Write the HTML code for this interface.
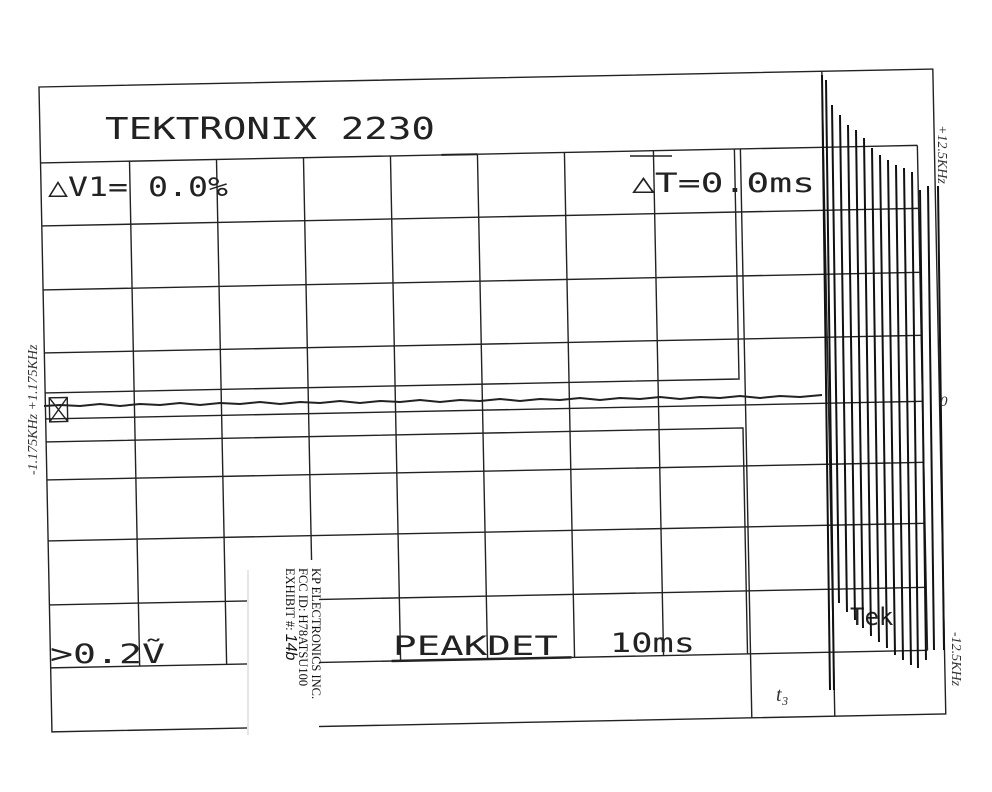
<!DOCTYPE html>
<html><head><meta charset="utf-8">
<style>
html,body{margin:0;padding:0;background:#fff;}
svg{display:block;}
.m{font-family:"DejaVu Sans Mono","Liberation Mono",monospace;fill:#222;}
</style></head><body>
<svg width="992" height="792" viewBox="0 0 992 792" xmlns="http://www.w3.org/2000/svg">
<rect width="992" height="792" fill="#fff"/>
<g transform="rotate(-1.15 39 87)" stroke="#222" stroke-width="1.4" fill="none">
  <rect x="39" y="87" width="894" height="645"/>
  <line x1="39" y1="163" x2="822" y2="163"/>
  <g>
    <line x1="39" y1="226" x2="916" y2="226"/>
    <line x1="39" y1="290" x2="916" y2="290"/>
    <line x1="39" y1="353" x2="916" y2="353"/>
    <line x1="39" y1="419" x2="916" y2="419"/>
    <line x1="39" y1="480" x2="916" y2="480"/>
    <line x1="39" y1="541" x2="916" y2="541"/>
    <line x1="39" y1="605" x2="916" y2="605"/>
    <line x1="39" y1="668" x2="916" y2="668"/>
    <line x1="822" y1="163" x2="916" y2="163"/>
    <line x1="916" y1="163" x2="916" y2="668"/>
  </g>
  <g>
    <line x1="128" y1="163" x2="128" y2="668"/>
    <line x1="215" y1="163" x2="215" y2="668"/>
    <line x1="302" y1="163" x2="302" y2="668"/>
    <line x1="389" y1="163" x2="389" y2="668"/>
    <line x1="476" y1="163" x2="476" y2="668"/>
    <line x1="563" y1="163" x2="563" y2="668"/>
    <line x1="652" y1="163" x2="652" y2="668"/>
    <line x1="739" y1="163" x2="739" y2="732"/>
    <line x1="822" y1="87" x2="822" y2="732"/>
  </g>
  <polyline points="39,393 733,393 733,163"/>
  <polyline points="39,442 736,442 736,668"/>
  <line x1="440" y1="163" x2="476" y2="163" stroke-width="2"/>
  <rect x="43" y="398" width="18" height="24"/>
  <line x1="43" y1="398" x2="61" y2="422"/>
  <line x1="43" y1="422" x2="61" y2="398"/>
  <line x1="380" y1="668" x2="560" y2="668" stroke-width="2.5"/>
</g>
<line x1="630" y1="156" x2="672" y2="156" stroke="#222" stroke-width="1.6"/>
<g stroke="none">
  <text x="105" y="139" class="m" font-size="30" textLength="330" lengthAdjust="spacingAndGlyphs">TEKTRONIX 2230</text>
  <text x="48" y="196" class="m" font-size="27" textLength="180" lengthAdjust="spacingAndGlyphs">△V1= 0.0%</text>
  <text x="632" y="192" class="m" font-size="27" textLength="183" lengthAdjust="spacingAndGlyphs">△T=0.0ms</text>
  <text x="50" y="663" class="m" font-size="27" textLength="115" lengthAdjust="spacingAndGlyphs">&gt;0.2Ṽ</text>
  <text x="393" y="655" class="m" font-size="27" textLength="165" lengthAdjust="spacingAndGlyphs">PEAKDET</text>
  <text x="610" y="652" class="m" font-size="27" textLength="85" lengthAdjust="spacingAndGlyphs">10ms</text>
  <text x="776" y="701" font-family="Liberation Serif,serif" font-style="italic" font-size="20" fill="#333">t₃</text>
  <text x="850" y="625" class="m" font-size="24" fill="#333">Tek</text>
</g>
<polyline fill="none" stroke="#222" stroke-width="2" points="44,406 60,405 80,406 100,404 120,406 140,404 160,405 180,403 200,405 220,403 240,404 260,402 280,404 300,402 320,403 340,401 360,403 380,401 400,402 420,400 440,402 460,400 480,401 500,399 520,401 540,399 560,400 580,398 600,400 620,398 640,399 660,397 680,399 700,397 720,398 740,396 760,398 780,396 800,397 822,395"/>
<g stroke="#111" stroke-width="2" fill="none">
  <line x1="822" y1="75" x2="830" y2="690"/>
  <line x1="826" y1="80" x2="834" y2="690"/>
  <line x1="832" y1="105" x2="839" y2="603"/>
  <line x1="840" y1="115" x2="847" y2="612"/>
  <line x1="848" y1="125" x2="855" y2="620"/>
  <line x1="856" y1="130" x2="863" y2="628"/>
  <line x1="864" y1="138" x2="871" y2="636"/>
  <line x1="872" y1="148" x2="879" y2="642"/>
  <line x1="880" y1="155" x2="887" y2="648"/>
  <line x1="888" y1="160" x2="895" y2="655"/>
  <line x1="896" y1="165" x2="903" y2="660"/>
  <line x1="904" y1="168" x2="911" y2="665"/>
  <line x1="912" y1="172" x2="918" y2="668"/>
  <line x1="920" y1="190" x2="926" y2="660"/>
  <line x1="928" y1="186" x2="934" y2="650"/>
  <line x1="938" y1="186" x2="944" y2="650"/>
</g>
<g font-family="Liberation Serif,serif" font-style="italic" font-size="14" fill="#333">
  <text transform="translate(938,125) rotate(90)">+12.5KHz</text>
  <text x="940" y="406" font-size="15">0</text>
  <text transform="translate(952,632) rotate(90)">-12.5KHz</text>
  <text transform="translate(37,475) rotate(-90)">-1.175KHz  +1.175KHz</text>
</g>
<rect x="247" y="560" width="72" height="182" fill="#fff"/>
<line x1="248" y1="570" x2="248" y2="735" stroke="#ccc" stroke-width="1"/>
<g font-family="Liberation Serif,serif" font-size="12.5" fill="#111">
  <text transform="translate(312,568) rotate(90)">KP ELECTRONICS INC.</text>
  <text transform="translate(299,568) rotate(90)">FCC ID:  H78ATSU100</text>
  <text transform="translate(286,568) rotate(90)">EXHIBIT #:  <tspan font-family="Liberation Sans,sans-serif" font-style="italic" font-size="16">14b</tspan></text>
</g>
</svg>
</body></html>
